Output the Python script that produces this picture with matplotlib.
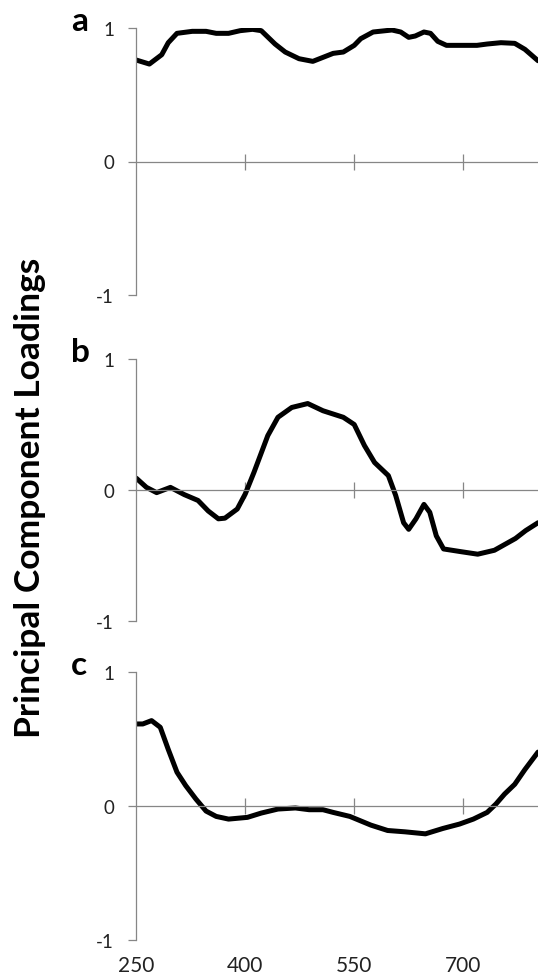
import matplotlib
matplotlib.use("Agg")
import matplotlib.pyplot as plt

# wavelength (nm) and loadings
wl_a = [250, 268, 285, 294, 306, 327, 346, 360, 377, 393, 410, 422, 441, 455,
        474, 493, 507, 521, 535, 550, 559, 576, 602, 614, 625, 634, 646, 655,
        665, 677, 719, 733, 752, 771, 785, 803]
load_a = [0.76, 0.73, 0.80, 0.89, 0.96, 0.975, 0.975, 0.96, 0.96, 0.98, 0.99,
          0.98, 0.88, 0.82, 0.77, 0.75, 0.78, 0.81, 0.82, 0.87, 0.92, 0.97,
          0.985, 0.97, 0.93, 0.94, 0.97, 0.96, 0.90, 0.87, 0.87, 0.88, 0.89,
          0.885, 0.84, 0.755]

wl_b = [250, 264, 278, 297, 316, 335, 349, 363, 372, 389, 400, 412, 431, 445,
        464, 486, 507, 535, 550, 564, 578, 597, 607, 618, 625, 635, 646, 654,
        663, 673, 696, 720, 743, 772, 786, 803]
load_b = [0.09, 0.02, -0.02, 0.02, -0.035, -0.08, -0.16, -0.22, -0.215, -0.145,
          -0.03, 0.135, 0.415, 0.555, 0.63, 0.66, 0.605, 0.555, 0.50, 0.34,
          0.21, 0.11, -0.04, -0.25, -0.30, -0.22, -0.11, -0.17, -0.35, -0.45,
          -0.47, -0.49, -0.46, -0.37, -0.31, -0.25]

wl_c = [250, 259, 271, 283, 294, 306, 318, 332, 346, 360, 377, 403, 422, 445,
        469, 488, 507, 521, 544, 573, 596, 620, 648, 672, 695, 714, 733, 745,
        757, 771, 785, 803]
load_c = [0.61, 0.61, 0.635, 0.585, 0.42, 0.25, 0.15, 0.05, -0.04, -0.08,
          -0.10, -0.087, -0.055, -0.025, -0.017, -0.03, -0.03, -0.05, -0.08,
          -0.145, -0.185, -0.195, -0.21, -0.17, -0.137, -0.10, -0.05, 0.012,
          0.087, 0.16, 0.27, 0.40]

panel_labels = ["a", "b", "c"]
xticks = [250, 400, 550, 700]
yticks = [-1, 0, 1]

plt.rcParams['font.family'] = ['Lato', 'DejaVu Sans']
grey = '#868686'
W, H = 538, 979

fig = plt.figure(figsize=(W / 100, H / 100), dpi=100)

# panel boxes in pixels: (top, bottom)
boxes = [(29, 296), (360, 622), (672.7, 940.7)]
label_base = [31, 362, 675]
left = 136.3

series = [(wl_a, load_a), (wl_b, load_b), (wl_c, load_c)]
for i, (top, bot) in enumerate(boxes):
    ax = fig.add_axes([left / W, 1 - bot / H, 1 - left / W, (bot - top) / H])
    wl, ld = series[i]
    ax.plot(wl, ld, color='black', lw=3.6, solid_joinstyle='round',
            solid_capstyle='round')
    ax.set_xlim(250, 803)
    ax.set_ylim(-1, 1)

    for s in ['top', 'right']:
        ax.spines[s].set_visible(False)
    ax.spines['left'].set_color(grey)
    ax.spines['left'].set_linewidth(0.9)
    ax.spines['bottom'].set_position(('data', 0))
    ax.spines['bottom'].set_color(grey)
    ax.spines['bottom'].set_linewidth(0.9)

    ax.set_yticks(yticks)
    ax.set_yticklabels([str(t) for t in yticks])
    ax.tick_params(axis='y', direction='out', length=6, width=0.9, color=grey,
                   pad=10, labelsize=13.5, labelcolor='#222222')
    ax.set_xticks(xticks[1:])
    ax.tick_params(axis='x', direction='inout', length=11, width=0.9,
                   color=grey, labelbottom=False)

    fig.text(71 / W, 1 - label_base[i] / H, panel_labels[i], fontsize=24,
             fontweight='bold', ha='left', va='baseline')

    if i == 2:
        sec = ax.secondary_xaxis('bottom')
        sec.set_xticks(xticks)
        sec.set_xticklabels([str(t) for t in xticks])
        sec.tick_params(length=0, pad=11, labelsize=15, labelcolor='#222222')
        sec.spines['bottom'].set_visible(False)

fig.text(30 / W, 1 - 497.5 / H, "Principal Component Loadings", rotation=90,
         fontsize=25.5, fontweight='bold', ha='center', va='center')

fig.savefig("out.png", dpi=100)
